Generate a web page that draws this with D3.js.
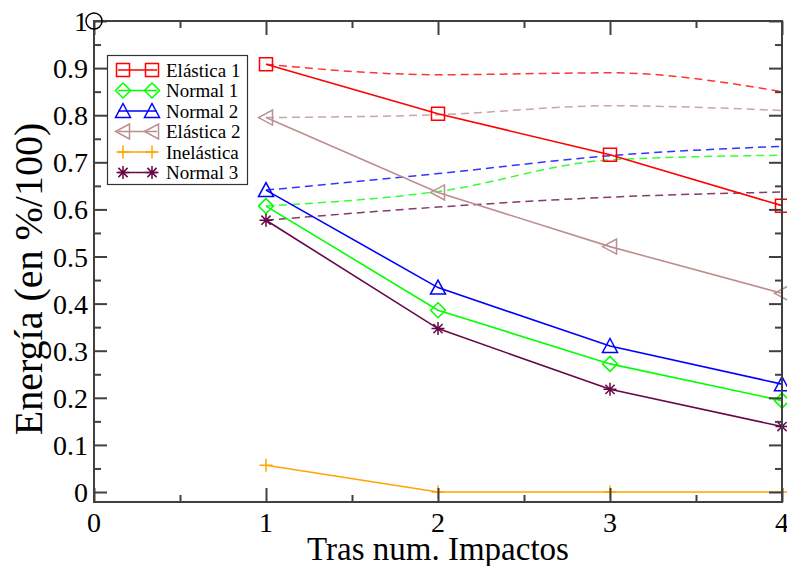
<!DOCTYPE html>
<html><head><meta charset="utf-8">
<script src="https://cdn.jsdelivr.net/npm/d3@7"></script>
<style>body{margin:0;background:#fff}svg{display:block}text{font-family:"Liberation Serif","Times New Roman",serif;fill:#000}</style>
</head><body>
<svg id="c" width="787" height="566"></svg>
<script>
const impacts = [1, 2, 3, 4];
const elastica1 = [0.908, 0.803, 0.716, 0.608];
const elastica1Ref = [0.908, 0.886, 0.890, 0.850];
const normal1 = [0.607, 0.386, 0.272, 0.194];
const normal1Ref = [0.607, 0.638, 0.705, 0.715];
const normal2 = [0.641, 0.434, 0.310, 0.229];
const normal2Ref = [0.641, 0.676, 0.714, 0.734];
const elastica2 = [0.795, 0.636, 0.521, 0.422];
const elastica2Ref = [0.795, 0.801, 0.820, 0.810];
const inelastica = [0.057, 0.0, 0.0, 0.0];
const normal3 = [0.577, 0.347, 0.218, 0.139];
const normal3Ref = [0.577, 0.605, 0.626, 0.637];
const seriesNames = ["Elástica 1", "Normal 1", "Normal 2", "Elástica 2", "Inelástica", "Normal 3"];
const xTicks = [0, 1, 2, 3, 4];
const yTicks = [0, 0.1, 0.2, 0.3, 0.4, 0.5, 0.6, 0.7, 0.8, 0.9, 1];
const yTickLabels = ["0", "0.1", "0.2", "0.3", "0.4", "0.5", "0.6", "0.7", "0.8", "0.9", "1"];
const cornerPoint = [0, 1];

const series = [
  {name: seriesNames[0], v: elastica1, ref: elastica1Ref, color: "#ff0000", sym: "square"},
  {name: seriesNames[1], v: normal1, ref: normal1Ref, color: "#00ff00", sym: "diamond"},
  {name: seriesNames[2], v: normal2, ref: normal2Ref, color: "#0000ff", sym: "triup"},
  {name: seriesNames[3], v: elastica2, ref: elastica2Ref, color: "#bc8f8f", sym: "trileft"},
  {name: seriesNames[4], v: inelastica, ref: null, color: "#ffa500", sym: "plus"},
  {name: seriesNames[5], v: normal3, ref: normal3Ref, color: "#670748", sym: "star"}
];

const svg = d3.select("#c");
const x = d3.scaleLinear().domain([0, 4]).range([94, 782]);
const y = d3.scaleLinear().domain([-0.0212, 1]).range([502, 21]);

function symPath(sym) {
  const s = 6.5;
  switch (sym) {
    case "square": return `M${-s},${-s}H${s}V${s}H${-s}Z`;
    case "diamond": return `M0,${-s-1}L${s+1},0L0,${s+1}L${-s-1},0Z`;
    case "triup": return `M0,${-s-1}L${s+1},${s}L${-s-1},${s}Z`;
    case "trileft": return `M${-s-1},0L${s},${-s-1}L${s},${s+1}Z`;
    case "plus": return `M${-s},0H${s}M0,${-s}V${s}`;
    case "star": {
      const r = s; const d = r * 0.7071;
      return `M${-r},0H${r}M0,${-r}V${r}M${-d},${-d}L${d},${d}M${-d},${d}L${d},${-d}`;
    }
  }
}

const plot = svg.append("g");
const line = d3.line().x((d, i) => x(impacts[i])).y(d => y(d));
const refLine = d3.line().x((d, i) => x(impacts[i])).y(d => y(d)).curve(d3.curveMonotoneX);

series.forEach(s => {
  if (!s.ref) return;
  plot.append("path").attr("d", refLine(s.ref)).attr("fill", "none")
    .attr("stroke", s.color).attr("stroke-width", 1.5).attr("stroke-dasharray", "8,5").attr("opacity", 0.8);
});
series.forEach(s => {
  plot.append("path").attr("d", line(s.v)).attr("fill", "none")
    .attr("stroke", s.color).attr("stroke-width", 1.6);
});
series.forEach(s => {
  plot.selectAll(null).data(s.v).enter().append("path")
    .attr("transform", (d, i) => `translate(${x(impacts[i])},${y(d)})`)
    .attr("d", symPath(s.sym)).attr("fill", "none").attr("stroke", s.color).attr("stroke-width", 1.5);
});

const axCol = "#404040";
const axes = svg.append("g");
function drawAxis(axis, tr, vals, size) {
  const g = axes.append("g").attr("transform", tr).call(axis.tickValues(vals).tickSize(size).tickFormat(""));
  g.select(".domain").remove();
  g.selectAll("line").attr("stroke", axCol).attr("stroke-width", 2);
}
const xMinor = [0.5, 1.5, 2.5, 3.5];
const yMinor = [0.05, 0.15, 0.25, 0.35, 0.45, 0.55, 0.65, 0.75, 0.85, 0.95];
drawAxis(d3.axisBottom(x), `translate(0,${y.range()[0]})`, xTicks, -14);
drawAxis(d3.axisBottom(x), `translate(0,${y.range()[0]})`, xMinor, -7);
drawAxis(d3.axisTop(x), `translate(0,${y.range()[1]})`, xTicks, -14);
drawAxis(d3.axisTop(x), `translate(0,${y.range()[1]})`, xMinor, -7);
drawAxis(d3.axisLeft(y), `translate(${x.range()[0]},0)`, yTicks, -13);
drawAxis(d3.axisLeft(y), `translate(${x.range()[0]},0)`, yMinor, -7);
drawAxis(d3.axisRight(y), `translate(${x.range()[1]},0)`, yTicks, -13);
drawAxis(d3.axisRight(y), `translate(${x.range()[1]},0)`, yMinor, -7);
axes.append("rect").attr("x", x.range()[0]).attr("y", y.range()[1])
  .attr("width", x.range()[1] - x.range()[0]).attr("height", y.range()[0] - y.range()[1])
  .attr("fill", "none").attr("stroke", axCol).attr("stroke-width", 2);

svg.append("g").selectAll("text").data(yTicks).enter().append("text")
  .attr("x", x.range()[0] - 6).attr("y", d => y(d) + 10).attr("text-anchor", "end")
  .attr("font-size", 28).text((d, i) => yTickLabels[i]);
svg.append("g").selectAll("text").data(xTicks).enter().append("text")
  .attr("x", d => x(d)).attr("y", 532).attr("text-anchor", "middle")
  .attr("font-size", 28).text(d => d);

svg.append("circle").attr("cx", x(cornerPoint[0])).attr("cy", y(cornerPoint[1])).attr("r", 8)
  .attr("fill", "none").attr("stroke", "#000").attr("stroke-width", 1.5);

svg.append("text").attr("x", 438).attr("y", 560).attr("text-anchor", "middle")
  .attr("font-size", 33).text("Tras num. Impactos");
svg.append("text").attr("transform", "translate(42,279) rotate(-90)").attr("text-anchor", "middle")
  .attr("font-size", 40).text("Energía (en %/100)");

const leg = svg.append("g");
leg.append("rect").attr("x", 107.5).attr("y", 55.5).attr("width", 140).attr("height", 129)
  .attr("fill", "#fff").attr("stroke", "#333").attr("stroke-width", 1.2);
series.forEach((s, i) => {
  const yy = 70 + i * 20.5;
  leg.append("line").attr("x1", 118).attr("x2", 157).attr("y1", yy).attr("y2", yy)
    .attr("stroke", s.color).attr("stroke-width", 1.5);
  [123, 152].forEach(xx => leg.append("path").attr("transform", `translate(${xx},${yy})`)
    .attr("d", symPath(s.sym)).attr("fill", "none").attr("stroke", s.color).attr("stroke-width", 1.5));
  leg.append("text").attr("x", 166).attr("y", yy + 6.5).attr("font-size", 19).text(s.name);
});
</script>
</body></html>
